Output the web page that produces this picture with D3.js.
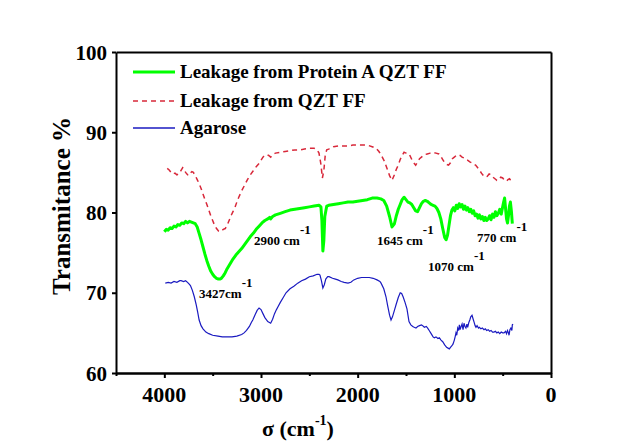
<!DOCTYPE html>
<html><head><meta charset="utf-8">
<script src="https://cdn.jsdelivr.net/npm/d3@7"></script>
</head><body style="margin:0;background:#fff"><svg id="c" width="640" height="447" style="display:block;background:#fff" font-family="Liberation Serif"></svg>
<script>
const seriesNames = ["Leakage from Protein A QZT FF","Leakage from QZT FF","Agarose"];
const seriesColors = ["#00ff00","#d8283a","#1a1ac0"];
const xTicks = [4000,3000,2000,1000,0];
const xMinorTicks = [4500,3500,2500,1500,500];
const yTicks = [60,70,80,90,100];

const proteinA = [[4000,77.6],[3980,77.9],[3960,77.8],[3940,78.1],[3920,78.0],[3900,78.3],[3880,78.2],[3860,78.5],[3840,78.4],[3820,78.7],[3800,78.6],[3780,78.9],[3760,78.7],[3740,78.9],[3720,78.8],[3700,78.7],[3680,78.6],[3660,78.2],[3640,77.4],[3620,76.6],[3600,75.7],[3580,74.8],[3560,74.0],[3540,73.3],[3520,72.7],[3500,72.3],[3480,72.0],[3460,71.8],[3440,71.7],[3427,71.7],[3410,71.8],[3390,72.1],[3370,72.5],[3350,73.0],[3330,73.4],[3310,73.8],[3290,74.2],[3260,74.7],[3230,75.1],[3200,75.5],[3170,76.0],[3140,76.5],[3110,77.0],[3080,77.4],[3050,77.9],[3020,78.3],[2990,78.7],[2960,79.0],[2930,79.2],[2910,79.4],[2900,79.2],[2880,79.5],[2850,79.7],[2800,79.9],[2750,80.1],[2700,80.3],[2650,80.4],[2600,80.5],[2550,80.6],[2500,80.7],[2450,80.8],[2400,80.9],[2380,80.7],[2370,79.0],[2360,75.2],[2350,76.5],[2340,79.5],[2320,80.8],[2300,80.9],[2250,81.0],[2200,81.1],[2150,81.2],[2100,81.3],[2050,81.3],[2000,81.4],[1950,81.5],[1900,81.6],[1850,81.8],[1800,81.8],[1760,81.7],[1730,81.5],[1700,80.8],[1670,79.5],[1645,78.2],[1620,78.6],[1600,79.6],[1580,80.4],[1560,81.0],[1540,81.6],[1520,81.9],[1500,81.6],[1480,81.3],[1460,81.2],[1440,81.0],[1420,80.6],[1400,80.2],[1380,80.1],[1360,80.6],[1340,81.1],[1320,81.4],[1300,81.5],[1280,81.4],[1260,81.2],[1240,81.0],[1220,80.9],[1200,80.8],[1180,80.5],[1160,80.0],[1140,79.2],[1120,78.0],[1100,76.9],[1085,76.6],[1070,77.2],[1055,78.4],[1040,79.6],[1025,80.3],[1010,80.6],[995,80.2],[980,80.9],[965,80.5],[950,81.1],[935,80.7],[920,81.0],[905,80.4],[890,80.8],[875,80.3],[860,80.6],[845,80.1],[830,80.4],[815,79.9],[800,80.2],[785,79.6],[770,79.8],[755,79.3],[740,79.7],[725,79.2],[710,79.5],[695,79.0],[680,79.4],[665,79.0],[650,79.2],[635,79.6],[620,79.1],[605,79.8],[590,79.4],[575,80.1],[560,79.6],[545,79.9],[530,80.4],[515,79.8],[500,80.7],[490,81.3],[480,81.8],[470,80.5],[460,79.2],[450,78.7],[440,79.6],[430,80.8],[420,81.3],[410,80.2],[400,78.6]];

const qztFF = [[3970,85.5],[3950,85.3],[3930,85.0],[3910,84.8],[3890,84.9],[3870,84.7],[3850,84.8],[3830,85.2],[3810,85.6],[3800,85.5],[3780,85.0],[3760,84.7],[3745,84.6],[3730,84.9],[3715,85.1],[3700,85.0],[3680,84.6],[3660,84.1],[3640,83.6],[3620,83.0],[3600,82.3],[3580,81.6],[3560,81.0],[3540,80.3],[3520,79.6],[3500,79.0],[3480,78.4],[3460,78.0],[3440,77.7],[3430,77.6],[3410,77.7],[3390,77.9],[3370,78.0],[3350,78.4],[3330,79.0],[3310,79.6],[3290,80.1],[3270,80.6],[3250,81.3],[3230,81.9],[3200,82.7],[3170,83.4],[3140,84.1],[3110,84.7],[3080,85.2],[3050,85.7],[3020,86.1],[3000,86.5],[2980,86.9],[2960,87.1],[2940,87.2],[2920,87.1],[2900,86.9],[2880,87.2],[2850,87.4],[2800,87.5],[2750,87.6],[2700,87.7],[2650,87.8],[2600,87.8],[2550,87.9],[2500,88.0],[2450,88.0],[2420,87.8],[2400,87.4],[2380,86.0],[2365,84.3],[2350,85.2],[2335,87.2],[2320,87.8],[2300,87.9],[2250,88.2],[2200,88.3],[2150,88.3],[2100,88.3],[2050,88.4],[2000,88.4],[1950,88.4],[1900,88.4],[1850,88.2],[1810,88.0],[1780,87.6],[1750,87.0],[1724,86.4],[1700,85.6],[1670,84.6],[1645,84.0],[1620,84.7],[1600,85.4],[1580,85.9],[1560,86.6],[1540,87.1],[1520,87.5],[1500,87.4],[1480,87.4],[1460,87.1],[1440,86.6],[1420,86.2],[1400,85.9],[1380,86.3],[1360,86.7],[1340,86.9],[1310,87.2],[1280,87.3],[1250,87.4],[1220,87.5],[1190,87.4],[1160,87.3],[1140,87.0],[1120,86.6],[1100,86.2],[1080,86.0],[1060,85.9],[1040,86.2],[1020,86.7],[1000,86.9],[980,87.1],[960,87.2],[940,87.1],[920,86.9],[900,86.8],[880,86.6],[860,86.5],[840,86.3],[820,86.2],[800,86.0],[780,85.9],[760,85.6],[740,85.3],[720,84.9],[700,84.6],[680,84.4],[660,84.5],[640,84.8],[620,84.7],[600,84.4],[580,84.2],[560,84.0],[540,84.1],[520,84.4],[500,84.3],[480,84.0],[460,83.9],[445,84.1],[430,84.2],[415,84.0],[400,84.2]];

const agarose = [[3990,71.2],[3960,71.3],[3930,71.2],[3900,71.4],[3870,71.3],[3840,71.5],[3827,71.5],[3800,71.4],[3780,71.5],[3760,71.3],[3745,71.1],[3730,70.9],[3710,70.3],[3690,69.5],[3670,68.5],[3655,67.6],[3640,66.6],[3620,65.9],[3600,65.5],[3570,65.1],[3540,64.9],[3500,64.7],[3445,64.6],[3400,64.5],[3350,64.5],[3300,64.5],[3250,64.6],[3200,64.8],[3175,65.0],[3150,65.3],[3120,65.8],[3100,66.3],[3085,66.6],[3060,67.3],[3040,67.8],[3020,68.1],[3000,67.9],[2980,67.4],[2960,66.9],[2930,66.4],[2900,66.2],[2880,66.7],[2860,67.4],[2840,67.9],[2827,68.2],[2800,68.8],[2770,69.4],[2741,70.0],[2700,70.5],[2660,70.8],[2620,71.2],[2580,71.5],[2540,71.7],[2500,72.0],[2460,72.1],[2420,72.3],[2400,72.3],[2390,72.2],[2375,71.5],[2360,70.6],[2345,71.0],[2330,71.7],[2310,72.0],[2296,72.0],[2260,71.8],[2230,71.7],[2205,71.6],[2170,71.4],[2140,71.3],[2100,71.2],[2070,71.3],[2040,71.6],[2000,71.8],[1960,71.9],[1920,71.9],[1880,71.9],[1840,71.8],[1800,71.6],[1770,71.4],[1758,71.2],[1730,70.5],[1707,69.5],[1690,68.4],[1670,67.2],[1655,66.6],[1640,67.0],[1620,67.8],[1603,68.5],[1580,69.4],[1560,70.0],[1545,69.9],[1530,69.5],[1510,68.8],[1490,68.0],[1469,66.4],[1450,66.0],[1430,65.8],[1415,65.7],[1397,65.6],[1380,65.8],[1360,65.9],[1340,66.0],[1328,65.9],[1310,65.7],[1290,65.8],[1276,65.6],[1260,65.3],[1240,64.9],[1220,64.5],[1207,64.4],[1190,64.5],[1170,64.3],[1155,64.4],[1138,64.1],[1120,63.9],[1100,63.5],[1080,63.2],[1065,63.1],[1052,63.0],[1040,63.2],[1025,63.4],[1014,63.6],[1000,64.1],[990,64.6],[983,65.0],[975,64.7],[965,65.6],[955,65.3],[948,66.0],[940,65.4],[930,65.8],[920,66.1],[910,65.4],[900,66.2],[890,65.8],[880,65.6],[870,66.1],[862,65.7],[850,66.3],[840,66.6],[830,67.0],[817,67.2],[805,66.7],[795,66.3],[785,65.9],[776,65.7],[765,65.9],[750,65.6],[740,65.7],[725,65.5],[710,65.6],[693,65.4],[680,65.5],[665,65.3],[650,65.4],[635,65.2],[620,65.3],[605,65.1],[590,65.1],[575,65.2],[560,65.0],[545,65.1],[530,64.9],[515,65.1],[500,65.0],[486,65.0],[470,65.2],[460,64.9],[450,65.3],[440,65.0],[434,64.7],[425,65.4],[415,65.6],[405,65.3],[400,66.0],[393,66.1]];

const peakLabels = ["3427cm","2900 cm","1645 cm","1070 cm","770 cm"];
const peakAnchors = [[3641,69.35],[3072,75.95],[1800,75.95],[1272,72.71],[765,76.32]];

const svg = d3.select("#c");
const L0=116, R0=551, T0=52, B0=373;
const x = d3.scaleLinear().domain([4500,0]).range([L0,R0]);
const y = d3.scaleLinear().domain([60,100]).range([B0,T0]);
const pathGen = d3.line().x(d=>x(d[0])).y(d=>y(d[1]));

// axes with domain lines kept (frame = four axes)
const gB = svg.append("g").attr("transform",`translate(0,${B0})`)
  .call(d3.axisBottom(x).tickValues(xTicks).tickSize(5).tickSizeOuter(0).tickFormat(""));
const gBm = svg.append("g").attr("transform",`translate(0,${B0})`)
  .call(d3.axisBottom(x).tickValues(xMinorTicks).tickSize(3).tickSizeOuter(0).tickFormat(""));
const gL = svg.append("g").attr("transform",`translate(${L0},0)`)
  .call(d3.axisLeft(y).tickValues(yTicks).tickSize(4).tickSizeOuter(0).tickFormat(""));
const gT = svg.append("g").attr("transform",`translate(0,${T0})`)
  .call(d3.axisTop(x).tickValues([]).tickSizeOuter(0));
const gR = svg.append("g").attr("transform",`translate(${R0},0)`)
  .call(d3.axisRight(y).tickValues([]).tickSizeOuter(0));
[gB,gBm,gL,gT,gR].forEach(g=>{
  g.selectAll("path,line").attr("stroke","black").attr("stroke-width",2);
});

// curves
svg.append("path").datum(agarose).attr("d",pathGen).attr("fill","none").attr("stroke",seriesColors[2]).attr("stroke-width",1.2);
svg.append("path").datum(qztFF).attr("d",pathGen).attr("fill","none").attr("stroke",seriesColors[1]).attr("stroke-width",1.5).attr("stroke-dasharray","5,4");
svg.append("path").datum(proteinA).attr("d",pathGen).attr("fill","none").attr("stroke",seriesColors[0]).attr("stroke-width",3).attr("stroke-linejoin","round");

function addText(px, py, size, content){
  const t = svg.append("text").attr("x",px).attr("y",py).attr("font-family","Liberation Serif")
    .attr("font-weight","bold").attr("font-size",size).attr("fill","black");
  if(content!==null) t.text(content);
  return t;
}

// tick labels
xTicks.forEach(v=>{
  addText(x(v), B0+29, 22, String(v)).attr("text-anchor","middle");
});
yTicks.forEach(v=>{
  addText(L0-9, y(v)+7.5, 21, String(v)).attr("text-anchor","end");
});

// axis titles
svg.append("text").attr("transform","translate(70,206) rotate(-90)").attr("text-anchor","middle")
  .attr("font-family","Liberation Serif").attr("font-weight","bold").attr("font-size",25).attr("fill","black")
  .text("Transmitance %");
const xl = addText(262, 436, 22, null);
xl.append("tspan").text("σ  (cm");
xl.append("tspan").attr("font-size",14).attr("dy",-11).text("-1");
xl.append("tspan").attr("dy",11).text(")");

// legend
const legY = [72,101,128];
const legSW = [3,1.5,1.5];
seriesNames.forEach((n,i)=>{
  const ln = svg.append("line").attr("x1",133).attr("x2",175).attr("y1",legY[i]).attr("y2",legY[i])
    .attr("stroke",seriesColors[i]).attr("stroke-width",legSW[i]);
  if(i===1) ln.attr("stroke-dasharray","5,4");
  addText(180, legY[i]+6, 19, n);
});

// peak annotations
peakLabels.forEach((t,i)=>{
  const a = peakAnchors[i];
  const tx = addText(x(a[0]), y(a[1]), 13, null);
  tx.append("tspan").text(t);
  tx.append("tspan").attr("dy",-11).text("-1");
});
</script></body></html>
